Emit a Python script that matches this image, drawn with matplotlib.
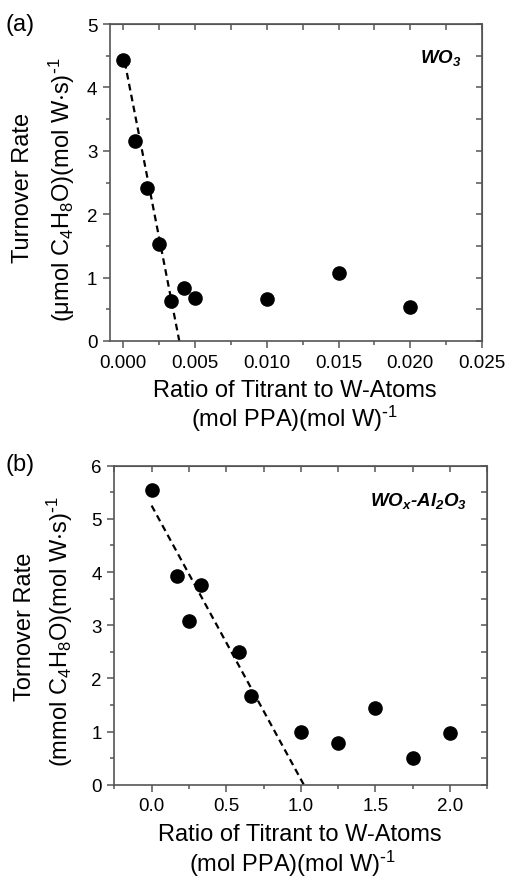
import matplotlib
matplotlib.use('Agg')
import matplotlib.pyplot as plt
from matplotlib.ticker import MultipleLocator

plt.rcParams['font.family'] = ['Liberation Sans', 'DejaVu Sans']
plt.rcParams['mathtext.default'] = 'regular'

# panel (a) WO3
wo3_ratio = [0.0, 0.00083, 0.00167, 0.0025, 0.0033, 0.0042, 0.005, 0.010, 0.015, 0.020]
wo3_rate = [4.43, 3.16, 2.41, 1.53, 0.63, 0.83, 0.68, 0.67, 1.08, 0.53]
wo3_fit_x = [0.0001, 0.0039]
wo3_fit_y = [4.40, 0.0]

# panel (b) WOx-Al2O3
al_ratio = [0.0, 0.167, 0.25, 0.333, 0.583, 0.667, 1.0, 1.25, 1.5, 1.75, 2.0]
al_rate = [5.55, 3.93, 3.07, 3.76, 2.49, 1.67, 1.00, 0.78, 1.44, 0.50, 0.97]
al_fit_x = [0.0, 1.02]
al_fit_y = [5.25, 0.0]

W, H = 506, 879
fig = plt.figure(figsize=(W / 100, H / 100), dpi=100)

spine_c = '#555555'
tick_fs = 13.5
lab_fs = 17
inv = r'$^{\text{-}1}$'


def px(x, y):
    return x / W, 1 - y / H


def style(ax, xmaj, xmin, ymaj, ymin):
    for s in ax.spines.values():
        s.set_color(spine_c)
        s.set_linewidth(1.2)
    ax.xaxis.set_major_locator(MultipleLocator(xmaj))
    ax.xaxis.set_minor_locator(MultipleLocator(xmin))
    ax.yaxis.set_major_locator(MultipleLocator(ymaj))
    ax.yaxis.set_minor_locator(MultipleLocator(ymin))
    ax.tick_params(which='major', direction='out', length=5, width=1.1,
                   color=spine_c, labelsize=tick_fs, pad=4)
    ax.tick_params(which='minor', direction='out', length=3, width=1.1, color=spine_c)
    top = ax.secondary_xaxis('top')
    top.xaxis.set_major_locator(MultipleLocator(xmaj))
    top.xaxis.set_minor_locator(MultipleLocator(xmin))
    top.tick_params(which='both', direction='in', length=4, width=1.1,
                    color=spine_c, labeltop=False)
    top.spines['top'].set_color(spine_c)
    right = ax.secondary_yaxis('right')
    right.yaxis.set_major_locator(MultipleLocator(ymaj))
    right.yaxis.set_minor_locator(MultipleLocator(ymin))
    right.tick_params(which='both', direction='in', length=4, width=1.1,
                      color=spine_c, labelright=False)
    right.spines['right'].set_color(spine_c)


# ---- (a)
ax1 = fig.add_axes([110 / W, 1 - 342 / H, 372 / W, 317 / H])
ax1.plot(wo3_fit_x, wo3_fit_y, color='black', lw=1.6, dashes=(3, 2))
ax1.plot(wo3_ratio, wo3_rate, 'o', color='black', ms=9.5)
ax1.set_xlim(-0.00093, 0.025)
ax1.set_ylim(0, 5)
style(ax1, 0.005, 0.0025, 1, 0.5)
ax1.xaxis.set_major_formatter(plt.FuncFormatter(lambda v, p: f'{v:.3f}'))
ax1.text(441 / W, 1 - 58 / H, r'$\mathregular{WO_3}$', transform=fig.transFigure,
         ha='center', va='center', fontsize=13.5, fontweight='bold', style='italic')

fig.text(*px(6, 25), '(a)', fontsize=17, ha='left', va='center')
fig.text(*px(23, 188), 'Turnover Rate', rotation=90, fontsize=lab_fs,
         ha='center', va='center')
fig.text(*px(62, 190), r'($\mu$mol C$_4$H$_8$O)(mol W$\cdot$s)' + inv, rotation=90,
         fontsize=lab_fs, ha='center', va='center')
fig.text(*px(295, 391), 'Ratio of Titrant to W-Atoms', fontsize=lab_fs,
         ha='center', va='center')
fig.text(*px(294, 419), '(mol PPA)(mol W)' + inv, fontsize=lab_fs,
         ha='center', va='center')

# ---- (b)
ax2 = fig.add_axes([114.3 / W, 1 - 785.7 / H, 373 / W, 319 / H])
ax2.plot(al_fit_x, al_fit_y, color='black', lw=1.6, dashes=(3, 2))
ax2.plot(al_ratio, al_rate, 'o', color='black', ms=9.5)
ax2.set_xlim(-0.25, 2.25)
ax2.set_ylim(0, 6)
style(ax2, 0.5, 0.25, 1, 0.5)
ax2.xaxis.set_major_formatter(plt.FuncFormatter(lambda v, p: f'{v:.1f}'))
ax2.text(419 / W, 1 - 501 / H, r'$\mathregular{WO_x}$-$\mathregular{Al_2O_3}$',
         transform=fig.transFigure, ha='center', va='center', fontsize=13.5,
         fontweight='bold', style='italic')

fig.text(*px(6, 465), '(b)', fontsize=17, ha='left', va='center')
fig.text(*px(25, 627), 'Tornover Rate', rotation=90, fontsize=lab_fs,
         ha='center', va='center')
fig.text(*px(60, 632), r'(mmol C$_4$H$_8$O)(mol W$\cdot$s)' + inv, rotation=90,
         fontsize=lab_fs, ha='center', va='center')
fig.text(*px(300, 835), 'Ratio of Titrant to W-Atoms', fontsize=lab_fs,
         ha='center', va='center')
fig.text(*px(292, 864), '(mol PPA)(mol W)' + inv, fontsize=lab_fs,
         ha='center', va='center')

fig.savefig('out.png', dpi=100)
